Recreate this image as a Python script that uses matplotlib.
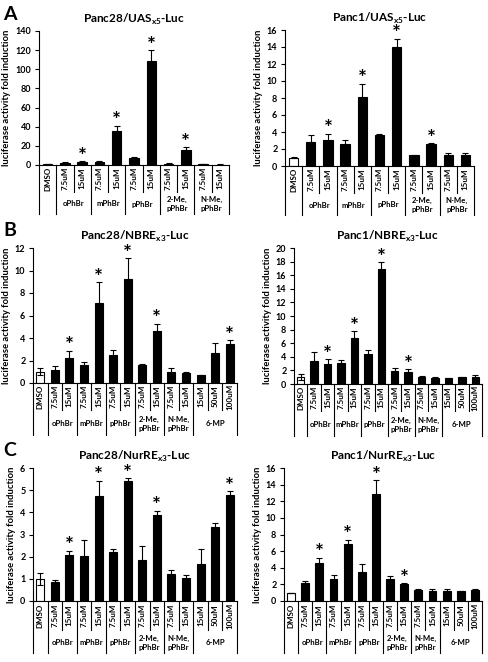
import numpy as np
import matplotlib
matplotlib.use("Agg")
import matplotlib.pyplot as plt

plt.rcParams['font.family'] = ['Lato', 'DejaVu Sans']
plt.rcParams['font.weight'] = 'bold'
plt.rcParams['mathtext.fontset'] = 'custom'
plt.rcParams['mathtext.rm'] = 'Lato'
plt.rcParams['mathtext.bf'] = 'Lato:bold'

# ---- category axis ----
doses_A = ["DMSO", "7.5uM", "15uM", "7.5uM", "15uM", "7.5uM", "15uM",
           "7.5uM", "15uM", "7.5uM", "15uM"]
groups_A = ["", "oPhBr", "mPhBr", "pPhBr", "2-Me,\npPhBr", "N-Me,\npPhBr"]
sizes_A = [1, 2, 2, 2, 2, 2]

doses_BC = doses_A + ["15uM", "50uM", "100uM"]
groups_BC = groups_A + ["6-MP"]
sizes_BC = sizes_A + [3]

# ---- A: UASx5 ----
a1_mean = [1.0, 2.5, 3.5, 3.5, 36, 7.5, 109, 1.5, 16, 1.0, 0.5]
a1_err = [0.2, 0.4, 0.6, 0.6, 5.0, 0.5, 11, 0.3, 2.5, 0.2, 0.1]
a1_sig = [0, 0, 1, 0, 1, 0, 1, 0, 1, 0, 0]

a2_mean = [1.0, 2.8, 3.1, 2.6, 8.1, 3.6, 14.0, 1.25, 2.6, 1.25, 1.25]
a2_err = [0.1, 0.8, 0.7, 0.5, 1.6, 0.2, 1.0, 0.05, 0.1, 0.3, 0.25]
a2_sig = [0, 0, 1, 0, 1, 0, 1, 0, 1, 0, 0]

# ---- B: NBREx3 ----
b1_mean = [1.0, 1.2, 2.25, 1.6, 7.15, 2.5, 9.25, 1.6, 4.65, 1.0, 0.85, 0.7, 2.7, 3.5]
b1_err = [0.3, 0.3, 0.6, 0.3, 1.8, 0.45, 1.85, 0.1, 0.6, 0.3, 0.1, 0.05, 0.9, 0.3]
b1_sig = [0, 0, 1, 0, 1, 0, 1, 0, 1, 0, 0, 0, 0, 1]

b2_mean = [1.0, 3.4, 2.95, 3.1, 6.75, 4.4, 16.9, 1.95, 1.8, 1.0, 0.95, 0.85, 1.0, 1.05]
b2_err = [0.4, 1.3, 0.7, 0.4, 1.05, 0.55, 1.0, 0.45, 0.4, 0.15, 0.05, 0.05, 0.1, 0.25]
b2_sig = [0, 0, 1, 0, 1, 0, 1, 0, 1, 0, 0, 0, 0, 0]

# ---- C: NurREx3 ----
c1_mean = [1.0, 0.87, 2.08, 2.05, 4.75, 2.2, 5.42, 1.85, 3.87, 1.2, 1.05, 1.65, 3.35, 4.78]
c1_err = [0.28, 0.07, 0.18, 0.7, 0.68, 0.15, 0.13, 0.62, 0.2, 0.2, 0.12, 0.7, 0.17, 0.17]
c1_sig = [0, 0, 1, 0, 1, 0, 1, 0, 1, 0, 0, 0, 0, 1]

c2_mean = [1.0, 2.15, 4.6, 2.7, 6.9, 3.5, 12.85, 2.65, 2.1, 1.35, 1.25, 1.15, 1.15, 1.35]
c2_err = [0.0, 0.25, 0.6, 0.45, 0.45, 0.95, 1.7, 0.4, 0.05, 0.15, 0.15, 0.35, 0.05, 0.05]
c2_sig = [0, 0, 1, 0, 1, 0, 1, 0, 1, 0, 0, 0, 0, 0]


def draw_panel(ax, title, mean, err, sig, doses, groups, sizes, ymax, ystep,
               short_px, long_px):
    n = len(mean)
    x = np.arange(n)
    colors = ['white'] + ['black'] * (n - 1)
    ax.bar(x, mean, 0.55, color=colors, edgecolor='black', linewidth=0.8, zorder=2)
    ax.errorbar(x, mean, yerr=err, fmt='none', ecolor='black', elinewidth=0.8,
                capsize=2.2, capthick=0.8, zorder=3)
    for xi, m, e, s in zip(x, mean, err, sig):
        if s:
            ax.annotate('*', (xi, m + e), xytext=(0, -4), textcoords='offset points',
                        ha='center', va='bottom', fontsize=15, fontweight='bold')

    ax.set_xlim(-0.5, n - 0.5)
    ax.set_ylim(0, ymax)
    ax.set_yticks(np.arange(0, ymax + ystep / 2, ystep))
    ax.tick_params(axis='y', labelsize=6.5, length=3, width=0.8, direction='out', pad=2.5)
    ax.set_xticks([])
    for sp in ['top', 'right']:
        ax.spines[sp].set_visible(False)
    ax.spines['left'].set_linewidth(0.8)
    ax.spines['bottom'].set_linewidth(0.8)
    ax.set_ylabel('luciferase activity fold induction', fontsize=6.8, fontweight='bold',
                  labelpad=3)
    ax.set_title(title, fontsize=8.5, fontweight='bold', pad=6)

    # multi-level category table under the axis
    h = ax.bbox.height
    trans = ax.get_xaxis_transform()
    bounds = np.concatenate([[0], np.cumsum(sizes)])
    for k in range(n + 1):
        depth = long_px if k in bounds else short_px
        ax.plot([k - 0.5, k - 0.5], [0, -depth / h], color='black', lw=0.8,
                transform=trans, clip_on=False)
    for xi, d in zip(x, doses):
        ax.text(xi, -(short_px / 2) / h, d, rotation=90, ha='center', va='center',
                fontsize=5.8, fontweight='bold', transform=trans)
    for g, a, b in zip(groups, bounds[:-1], bounds[1:]):
        if g:
            ax.text((a + b - 1) / 2, -((short_px + long_px) / 2 + 1) / h, g,
                    ha='center', va='center', fontsize=5.6, fontweight='bold',
                    linespacing=1.35, transform=trans)


fig = plt.figure(figsize=(4.88, 6.62), dpi=100)
W, H = 488, 662


def add_axes(x0, x1, top, bottom):
    return fig.add_axes([x0 / W, 1 - bottom / H, (x1 - x0) / W, (bottom - top) / H])


ax1 = add_axes(39, 229, 31, 165)
ax2 = add_axes(285, 474, 30, 166)
ax3 = add_axes(33, 237, 248, 383)
ax4 = add_axes(294, 482, 248, 384)
ax5 = add_axes(33, 237, 468, 601)
ax6 = add_axes(284, 482, 468, 601)

draw_panel(ax1, r'Panc28/UAS$_{\mathbf{x5}}$-Luc', a1_mean, a1_err, a1_sig,
           doses_A, groups_A, sizes_A, 140, 20, 27, 49)
draw_panel(ax2, r'Panc1/UAS$_{\mathbf{x5}}$-Luc', a2_mean, a2_err, a2_sig,
           doses_A, groups_A, sizes_A, 16, 2, 27, 49)
draw_panel(ax3, r'Panc28/NBRE$_{\mathbf{x3}}$-Luc', b1_mean, b1_err, b1_sig,
           doses_BC, groups_BC, sizes_BC, 12, 2, 27, 52)
draw_panel(ax4, r'Panc1/NBRE$_{\mathbf{x3}}$-Luc', b2_mean, b2_err, b2_sig,
           doses_BC, groups_BC, sizes_BC, 20, 2, 27, 52)
draw_panel(ax5, r'Panc28/NurRE$_{\mathbf{x3}}$-Luc', c1_mean, c1_err, c1_sig,
           doses_BC, groups_BC, sizes_BC, 6, 1, 29, 52)
draw_panel(ax6, r'Panc1/NurRE$_{\mathbf{x3}}$-Luc', c2_mean, c2_err, c2_sig,
           doses_BC, groups_BC, sizes_BC, 16, 2, 29, 52)

for letter, yy in [('A', 14), ('B', 230), ('C', 450)]:
    fig.text(3 / W, 1 - yy / H, letter, fontsize=14, fontweight='bold',
             ha='left', va='center')

fig.savefig('out.png', dpi=100)
